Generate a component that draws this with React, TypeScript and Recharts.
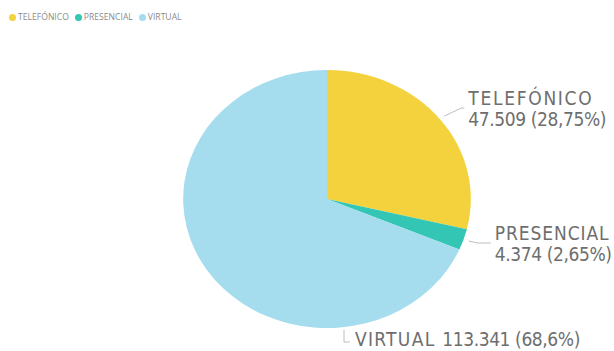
import { Legend, Pie, PieChart, Cell } from 'recharts'

const categories = ['TELEFÓNICO', 'PRESENCIAL', 'VIRTUAL']
const counts = [47509, 4374, 113341]
const colors = ['#F3D23E', '#33C6B4', '#A5DCEE']

const pieData = categories.map((name, i) => ({ name, value: counts[i] }))
const total = counts.reduce((s, v) => s + v, 0)

// the source pie is a little wider than tall
const STRETCH = 1.115
const CX = 327
const CY = 198
const LEGEND_OFFSET = 11
const RADIUS = 129

const labelFont = '"DejaVu Sans Condensed", "Roboto", sans-serif'

function formatNumber(value: number) {
  return new Intl.NumberFormat('de-DE').format(value)
}

function formatPercent(value: number) {
  return `${new Intl.NumberFormat('de-DE', { maximumFractionDigits: 2 }).format(value * 100)}%`
}

// DIN-ish capitals are wider than DejaVu's, digits narrower
const nameSpacing = [1.7, 0.9, 1.3]
const numSpacing = -0.4

function renderLabel(props: any) {
  const { cx, cy, midAngle, outerRadius, index, name, value } = props
  const pct = formatPercent(value / total)
  const rad = (Math.PI / 180) * midAngle
  const sx = cx + (outerRadius + 5) * STRETCH * Math.cos(rad)
  const sy = cy - (outerRadius + 5) * Math.sin(rad)
  const textStyle = { fontFamily: labelFont, fontSize: 19, fill: '#6E6E6E' }

  if (index === 2) {
    const x = cx + 17
    const y = cy + outerRadius + 2
    return (
      <g key="lbl-virtual">
        <path d={`M${x},${y} L${x},${y + 12} L${x + 6},${y + 12}`} stroke="#BDBDBD" fill="none" />
        <text x={x + 11} y={y + 9} dominantBaseline="central" style={textStyle}>
          <tspan style={{ letterSpacing: nameSpacing[2] }}>{`${name} `}</tspan>
          <tspan style={{ letterSpacing: numSpacing }}>{`${formatNumber(value)} (${pct})`}</tspan>
        </text>
      </g>
    )
  }

  const dx = index === 0 ? 17 : 9
  const dy = index === 0 ? -8 : 2
  const mx = sx + dx
  const my = sy + dy
  const ex = mx + (index === 0 ? 3 : 13)
  const ey = my
  return (
    <g key={`lbl-${index}`}>
      <path d={`M${sx},${sy} L${mx},${my} L${ex},${ey}`} stroke="#BDBDBD" fill="none" />
      <text x={ex + 4} y={ey - 10} dominantBaseline="central" style={{ ...textStyle, letterSpacing: nameSpacing[index] }}>{name}</text>
      <text x={ex + 4} y={ey + 11} dominantBaseline="central" style={{ ...textStyle, letterSpacing: numSpacing }}>
        {`${formatNumber(value)} (${pct})`}
      </text>
    </g>
  )
}

function LegendContent() {
  return (
    <div style={{ display: 'flex', alignItems: 'center', fontFamily: '"Open Sans", sans-serif', fontSize: 8.6, color: '#8A8A8A' }}>
      {categories.map((name, i) => (
        <span key={name} style={{ display: 'flex', alignItems: 'center', marginRight: 6 }}>
          <i style={{ display: 'inline-block', width: 7, height: 7, borderRadius: 4, background: colors[i], marginRight: 2 }} />
          {name}
        </span>
      ))}
    </div>
  )
}

export default function App() {
  return (
    <div style={{ width: 614, height: 351, background: '#fff' }}>
      <style>{`
        body { margin: 0; }
        .recharts-pie-sector .recharts-sector { transform: scaleX(${STRETCH}); transform-origin: ${CX}px ${CY}px; }
      `}</style>
      <PieChart width={614} height={351} margin={{ top: 0, right: 0, bottom: 0, left: 0 }}>
        <Legend
          verticalAlign="top"
          align="left"
          content={<LegendContent />}
          wrapperStyle={{ top: 11, left: 9 }}
        />
        <Pie
          data={pieData}
          dataKey="value"
          nameKey="name"
          cx={CX}
          cy={CY - LEGEND_OFFSET}
          outerRadius={RADIUS}
          startAngle={90}
          endAngle={-270}
          stroke="none"
          labelLine={false}
          label={renderLabel}
          isAnimationActive={false}
        >
          {pieData.map((entry, i) => <Cell key={entry.name} fill={colors[i]} />)}
        </Pie>
      </PieChart>
    </div>
  )
}
